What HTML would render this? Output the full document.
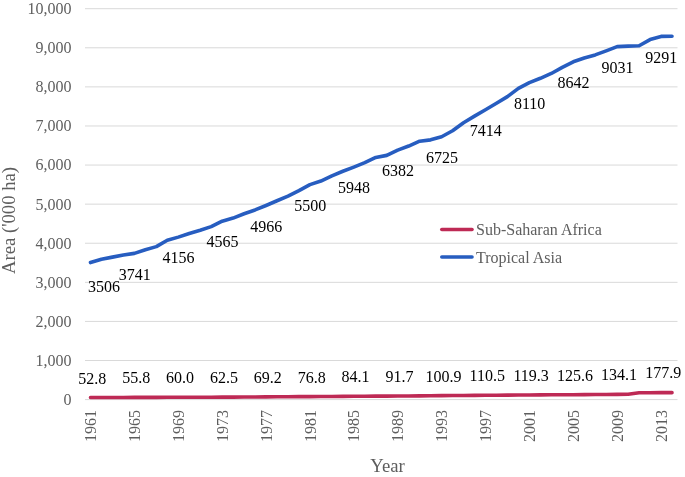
<!DOCTYPE html>
<html><head><meta charset="utf-8"><style>
html,body{margin:0;padding:0;background:#fff;width:685px;height:477px;overflow:hidden}
svg{display:block;will-change:transform}
text{font-family:"Liberation Serif",serif}
.ax{font-size:16px;fill:#5E5E5E}
.dl{font-size:16px;fill:#000}
.tt{font-size:18.7px;fill:#5E5E5E}
</style></head><body>
<svg width="685" height="477" viewBox="0 0 685 477"><rect width="685" height="477" fill="#fff"/><line x1="85.0" y1="399.60" x2="677.5" y2="399.60" stroke="#D9D9D9" stroke-width="1"/><line x1="85.0" y1="360.51" x2="677.5" y2="360.51" stroke="#D9D9D9" stroke-width="1"/><line x1="85.0" y1="321.42" x2="677.5" y2="321.42" stroke="#D9D9D9" stroke-width="1"/><line x1="85.0" y1="282.33" x2="677.5" y2="282.33" stroke="#D9D9D9" stroke-width="1"/><line x1="85.0" y1="243.24" x2="677.5" y2="243.24" stroke="#D9D9D9" stroke-width="1"/><line x1="85.0" y1="204.15" x2="677.5" y2="204.15" stroke="#D9D9D9" stroke-width="1"/><line x1="85.0" y1="165.06" x2="677.5" y2="165.06" stroke="#D9D9D9" stroke-width="1"/><line x1="85.0" y1="125.97" x2="677.5" y2="125.97" stroke="#D9D9D9" stroke-width="1"/><line x1="85.0" y1="86.88" x2="677.5" y2="86.88" stroke="#D9D9D9" stroke-width="1"/><line x1="85.0" y1="47.79" x2="677.5" y2="47.79" stroke="#D9D9D9" stroke-width="1"/><line x1="85.0" y1="8.70" x2="677.5" y2="8.70" stroke="#D9D9D9" stroke-width="1"/><text x="71.5" y="405.00" text-anchor="end" class="ax">0</text><text x="71.5" y="365.91" text-anchor="end" class="ax">1,000</text><text x="71.5" y="326.82" text-anchor="end" class="ax">2,000</text><text x="71.5" y="287.73" text-anchor="end" class="ax">3,000</text><text x="71.5" y="248.64" text-anchor="end" class="ax">4,000</text><text x="71.5" y="209.55" text-anchor="end" class="ax">5,000</text><text x="71.5" y="170.46" text-anchor="end" class="ax">6,000</text><text x="71.5" y="131.37" text-anchor="end" class="ax">7,000</text><text x="71.5" y="92.28" text-anchor="end" class="ax">8,000</text><text x="71.5" y="53.19" text-anchor="end" class="ax">9,000</text><text x="71.5" y="14.10" text-anchor="end" class="ax">10,000</text><text transform="translate(96.09,410.0) rotate(-90)" text-anchor="end" class="ax">1961</text><text transform="translate(139.97,410.0) rotate(-90)" text-anchor="end" class="ax">1965</text><text transform="translate(183.86,410.0) rotate(-90)" text-anchor="end" class="ax">1969</text><text transform="translate(227.75,410.0) rotate(-90)" text-anchor="end" class="ax">1973</text><text transform="translate(271.64,410.0) rotate(-90)" text-anchor="end" class="ax">1977</text><text transform="translate(315.53,410.0) rotate(-90)" text-anchor="end" class="ax">1981</text><text transform="translate(359.42,410.0) rotate(-90)" text-anchor="end" class="ax">1985</text><text transform="translate(403.31,410.0) rotate(-90)" text-anchor="end" class="ax">1989</text><text transform="translate(447.20,410.0) rotate(-90)" text-anchor="end" class="ax">1993</text><text transform="translate(491.09,410.0) rotate(-90)" text-anchor="end" class="ax">1997</text><text transform="translate(534.98,410.0) rotate(-90)" text-anchor="end" class="ax">2001</text><text transform="translate(578.86,410.0) rotate(-90)" text-anchor="end" class="ax">2005</text><text transform="translate(622.75,410.0) rotate(-90)" text-anchor="end" class="ax">2009</text><text transform="translate(666.64,410.0) rotate(-90)" text-anchor="end" class="ax">2013</text><polyline points="90.49,397.54 101.46,397.51 112.43,397.48 123.40,397.45 134.38,397.42 145.35,397.38 156.32,397.34 167.29,397.30 178.26,397.25 189.24,397.23 200.21,397.21 211.18,397.18 222.15,397.16 233.12,397.09 244.10,397.03 255.07,396.96 266.04,396.89 277.01,396.82 287.99,396.75 298.96,396.67 309.93,396.60 320.90,396.53 331.88,396.46 342.85,396.38 353.82,396.31 364.79,396.24 375.76,396.16 386.74,396.09 397.71,396.02 408.68,395.93 419.65,395.84 430.62,395.75 441.60,395.66 452.57,395.56 463.54,395.47 474.51,395.37 485.49,395.28 496.46,395.19 507.43,395.11 518.40,395.02 529.38,394.94 540.35,394.87 551.32,394.81 562.29,394.75 573.26,394.69 584.24,394.61 595.21,394.52 606.18,394.44 617.15,394.36 628.12,394.28 639.10,392.78 650.07,392.68 661.04,392.65 672.01,392.63" fill="none" stroke="#BE2A55" stroke-width="3.6" stroke-linecap="round" stroke-linejoin="round"/><polyline points="90.49,262.55 101.46,259.23 112.43,257.12 123.40,254.97 134.38,253.36 145.35,249.69 156.32,246.64 167.29,240.31 178.26,237.14 189.24,233.43 200.21,230.26 211.18,226.63 222.15,221.15 233.12,218.07 244.10,213.73 255.07,209.94 266.04,205.48 277.01,200.75 287.99,196.14 298.96,190.55 309.93,184.61 320.90,181.05 331.88,175.85 342.85,171.28 353.82,167.09 364.79,162.68 375.76,157.48 386.74,155.37 397.71,150.13 408.68,146.06 419.65,141.22 430.62,139.85 441.60,136.72 452.57,130.78 463.54,122.69 474.51,116.16 485.49,109.79 496.46,103.26 507.43,96.65 518.40,88.33 529.38,82.58 540.35,78.28 551.32,73.47 562.29,67.37 573.26,61.78 584.24,57.99 595.21,54.90 606.18,50.84 617.15,46.58 628.12,46.11 639.10,45.80 650.07,39.58 661.04,36.41 672.01,36.30" fill="none" stroke="#275DC0" stroke-width="3.6" stroke-linecap="round" stroke-linejoin="round"/><text x="104.00" y="291.80" text-anchor="middle" class="dl">3506</text><text x="134.68" y="279.56" text-anchor="middle" class="dl">3741</text><text x="178.56" y="263.34" text-anchor="middle" class="dl">4156</text><text x="222.45" y="247.35" text-anchor="middle" class="dl">4565</text><text x="266.34" y="231.68" text-anchor="middle" class="dl">4966</text><text x="310.23" y="210.81" text-anchor="middle" class="dl">5500</text><text x="354.12" y="193.29" text-anchor="middle" class="dl">5948</text><text x="398.01" y="176.33" text-anchor="middle" class="dl">6382</text><text x="441.90" y="162.92" text-anchor="middle" class="dl">6725</text><text x="485.79" y="135.99" text-anchor="middle" class="dl">7414</text><text x="529.67" y="108.78" text-anchor="middle" class="dl">8110</text><text x="573.56" y="87.98" text-anchor="middle" class="dl">8642</text><text x="617.45" y="72.78" text-anchor="middle" class="dl">9031</text><text x="661.34" y="62.61" text-anchor="middle" class="dl">9291</text><text x="92.29" y="383.54" text-anchor="middle" class="dl">52.8</text><text x="136.18" y="383.42" text-anchor="middle" class="dl">55.8</text><text x="180.06" y="383.25" text-anchor="middle" class="dl">60.0</text><text x="223.95" y="383.16" text-anchor="middle" class="dl">62.5</text><text x="267.84" y="382.89" text-anchor="middle" class="dl">69.2</text><text x="311.73" y="382.60" text-anchor="middle" class="dl">76.8</text><text x="355.62" y="382.31" text-anchor="middle" class="dl">84.1</text><text x="399.51" y="382.02" text-anchor="middle" class="dl">91.7</text><text x="443.40" y="381.66" text-anchor="middle" class="dl">100.9</text><text x="487.29" y="381.28" text-anchor="middle" class="dl">110.5</text><text x="531.17" y="380.94" text-anchor="middle" class="dl">119.3</text><text x="575.06" y="380.69" text-anchor="middle" class="dl">125.6</text><text x="618.95" y="380.36" text-anchor="middle" class="dl">134.1</text><text x="663.24" y="378.05" text-anchor="middle" class="dl">177.9</text><line x1="441.8" y1="229.5" x2="472" y2="229.5" stroke="#BE2A55" stroke-width="3.6" stroke-linecap="round"/><line x1="441.8" y1="257" x2="472" y2="257" stroke="#275DC0" stroke-width="3.6" stroke-linecap="round"/><text x="476" y="234.8" class="ax">Sub-Saharan Africa</text><text x="476" y="262.5" class="ax">Tropical Asia</text><text x="387.5" y="471.8" text-anchor="middle" class="tt">Year</text><text transform="translate(15.2,220.5) rotate(-90)" text-anchor="middle" class="tt">Area ('000 ha)</text></svg>
</body></html>
